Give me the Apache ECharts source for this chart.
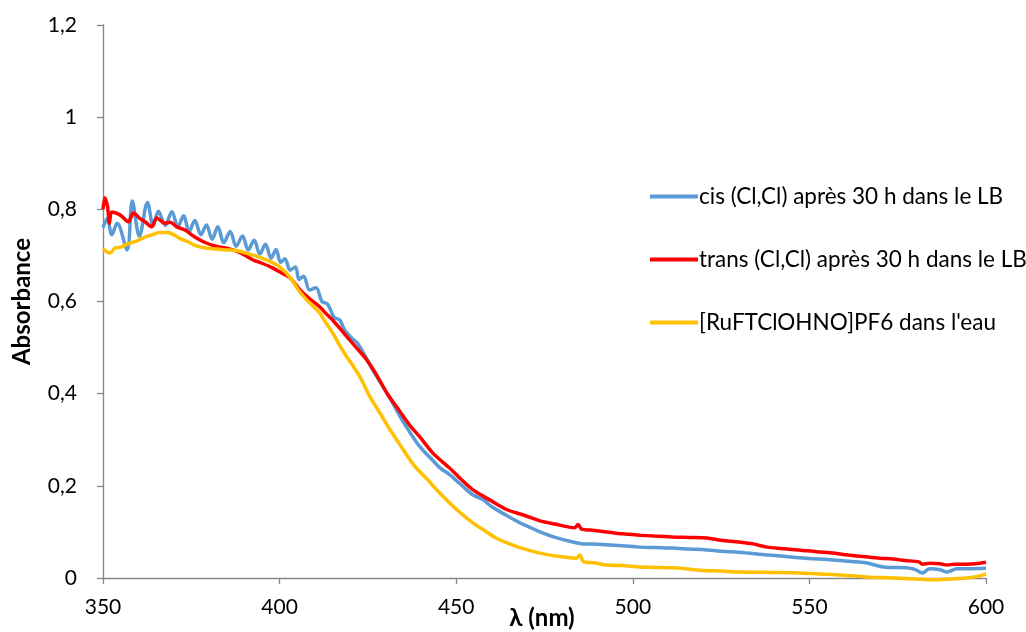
<!DOCTYPE html>
<html>
<head>
<meta charset="utf-8">
<script src="https://cdn.jsdelivr.net/npm/echarts@6/dist/echarts.min.js"></script>
<style>
html,body{margin:0;padding:0;background:#fff;}
#chart{width:1026px;height:632px;}
</style>
</head>
<body>
<div id="chart"></div>
<script>
// Series names
var seriesNames = ["cis (Cl,Cl) après 30 h dans le LB", "trans (Cl,Cl) après 30 h dans le LB", "[RuFTClOHNO]PF6 dans l'eau"];

// Axis ticks
var xTicks = [350, 400, 450, 500, 550, 600];
var yTicks = [0, 0.2, 0.4, 0.6, 0.8, 1, 1.2];

// cis (blue)
var cisWl = [350,351.2,352.5,354,356.8,358.3,360.3,362.6,364.2,365.7,367.6,369.5,371.2,372.8,374.4,376,377.7,379.3,380.9,382.5,384.2,386,387.7,389.5,391.1,392.8,394.4,396,397.6,399,400.3,401.5,403,404.5,405.5,406.8,408.5,410.3,412,413.5,415.5,417,418.5,420.5,422,424,426.4,428.5,430.4,432,434,437,439.7,443.4,445.4,448.2,451,454.8,457.6,460,464.4,468,470,473.7,478,483,486,489,492.7,497,502,506,511,516,521,525,530,538,547,556.7,562,566,571,577.6,580,582,584,587,589,591.7,595,600];
var cisAbs = [0.76,0.78,0.745,0.77,0.712,0.818,0.742,0.815,0.765,0.796,0.765,0.795,0.762,0.786,0.752,0.776,0.745,0.766,0.735,0.762,0.728,0.752,0.72,0.742,0.712,0.733,0.703,0.724,0.694,0.713,0.685,0.693,0.668,0.675,0.648,0.655,0.625,0.63,0.6,0.595,0.565,0.56,0.537,0.52,0.51,0.485,0.451,0.425,0.401,0.38,0.352,0.315,0.285,0.255,0.239,0.224,0.205,0.18,0.17,0.155,0.135,0.12,0.113,0.1,0.088,0.078,0.074,0.074,0.072,0.07,0.067,0.066,0.065,0.063,0.061,0.058,0.056,0.05,0.044,0.039,0.036,0.033,0.024,0.022,0.018,0.011,0.02,0.018,0.013,0.02,0.02,0.021];

// trans (red)
var transWl = [350,350.5,351.3,351.8,352.5,354.8,357.2,358.6,360.5,361.9,363.8,365.2,367.6,369,370.9,373.2,376,378.9,382,386.8,389.5,392.5,395,398,401,403,405.8,408.5,411.4,413,415,417.5,419.9,422.3,424.7,427.5,430.4,434,437,439.7,443.4,448.2,451,455,459.6,464.4,467.2,470,473.7,478,483.5,484.5,485.5,488,492.7,497,502,506,511,516,521,525,530,534,538,542,547,552,556.7,561,566,570,573.7,577,581,582,584,587,589,591,594.6,597,600];
var transAbs = [0.80,0.825,0.805,0.77,0.794,0.788,0.773,0.792,0.78,0.773,0.762,0.781,0.77,0.772,0.762,0.755,0.74,0.728,0.72,0.712,0.703,0.69,0.683,0.673,0.66,0.651,0.625,0.606,0.588,0.575,0.56,0.538,0.516,0.495,0.473,0.44,0.401,0.362,0.33,0.306,0.271,0.238,0.217,0.19,0.169,0.148,0.141,0.134,0.124,0.117,0.109,0.116,0.106,0.104,0.1,0.096,0.093,0.091,0.089,0.088,0.087,0.082,0.078,0.074,0.067,0.064,0.061,0.057,0.054,0.05,0.046,0.043,0.041,0.038,0.035,0.03,0.032,0.031,0.028,0.03,0.03,0.031,0.034];

// [RuFTClOHNO]PF6 (yellow)
var ruWl = [350,351,352,353.4,355,357,359,362,364,366,368.4,370,372,374,376,379,382,385,388,391,394,397,400,403,405.8,408.5,411.4,413,415,417,419,421,422.8,425.6,428.4,431,434,438,441.7,445.4,450.2,454.8,458,461,464.4,468,473.7,478,484,485,486,489,492.7,497,502,506,511,515,519,525,530,540,547,555,560,566,570,574,580,585,590,594.6,598,600];
var ruAbs = [0.715,0.708,0.705,0.716,0.718,0.725,0.73,0.74,0.745,0.75,0.75,0.745,0.736,0.73,0.722,0.716,0.714,0.712,0.71,0.704,0.697,0.688,0.675,0.652,0.62,0.597,0.575,0.555,0.532,0.505,0.48,0.458,0.436,0.393,0.358,0.325,0.29,0.245,0.215,0.184,0.148,0.119,0.103,0.088,0.076,0.066,0.054,0.048,0.043,0.05,0.036,0.033,0.028,0.027,0.024,0.023,0.022,0.02,0.017,0.015,0.013,0.012,0.011,0.008,0.006,0.002,0.001,0,-0.002,-0.004,-0.002,0,0.004,0.009];

function pairs(xs, ys){ return xs.map(function(x,i){ return [x, ys[i]]; }); }

var colors = ['#5B9BD5', '#FF0000', '#FFC000'];
var fontFam = 'Lato, "Open Sans", sans-serif';

var chart = echarts.init(document.getElementById('chart'), null, {renderer:'canvas'});
var option = {
  animation: false,
  backgroundColor: '#ffffff',
  grid: {left: 103, right: 40, top: 25, bottom: 54, containLabel: false, outerBoundsMode: 'none'},
  legend: {
    orient: 'vertical',
    left: 645,
    top: 180,
    itemWidth: 48,
    itemHeight: 4,
    itemGap: 40,
    icon: 'rect',
    data: seriesNames,
    textStyle: {fontFamily: fontFam, fontSize: 22.5, color: '#000', lineHeight: 23, padding: [0,0,0,-4]}
  },
  xAxis: {
    type: 'value',
    min: xTicks[0],
    max: xTicks[xTicks.length-1],
    interval: 50,
    name: 'λ (nm)',
    nameLocation: 'middle',
    nameGap: 28,
    nameMoveOverlap: false,
    nameTextStyle: {fontFamily: fontFam, fontSize: 24, fontWeight: 'bold', color: '#000', padding: [0,5,0,0]},
    splitLine: {show: false},
    axisLine: {show: true, lineStyle: {color: '#868686', width: 1.3}},
    axisTick: {show: true, length: 6, lineStyle: {color: '#868686', width: 1.3}},
    axisLabel: {margin: 19, fontFamily: fontFam, fontSize: 21, color: '#000'}
  },
  yAxis: {
    type: 'value',
    min: yTicks[0],
    max: yTicks[yTicks.length-1],
    interval: 0.2,
    name: 'Absorbance',
    nameLocation: 'middle',
    nameGap: 69,
    nameMoveOverlap: false,
    nameTextStyle: {fontFamily: fontFam, fontSize: 24, fontWeight: 'bold', color: '#000'},
    splitLine: {show: false},
    axisLine: {show: true, lineStyle: {color: '#868686', width: 1.3}},
    axisTick: {show: true, length: 6, lineStyle: {color: '#868686', width: 1.3}},
    axisLabel: {margin: 26, fontFamily: fontFam, fontSize: 21, color: '#000',
      formatter: function(v){ return String(Math.round(v*10)/10).replace('.', ','); }}
  },
  series: [
    {name: seriesNames[0], type: 'line', data: pairs(cisWl, cisAbs), showSymbol: false, symbol: 'none', smooth: 0.35, clip: false, color: colors[0], lineStyle: {width: 3.5, color: colors[0]}},
    {name: seriesNames[1], type: 'line', data: pairs(transWl, transAbs), showSymbol: false, symbol: 'none', smooth: 0.3, clip: false, color: colors[1], lineStyle: {width: 3.5, color: colors[1]}},
    {name: seriesNames[2], type: 'line', data: pairs(ruWl, ruAbs), showSymbol: false, symbol: 'none', smooth: 0.3, clip: false, color: colors[2], lineStyle: {width: 3.5, color: colors[2]}}
  ]
};
chart.setOption(option);
</script>
</body>
</html>
